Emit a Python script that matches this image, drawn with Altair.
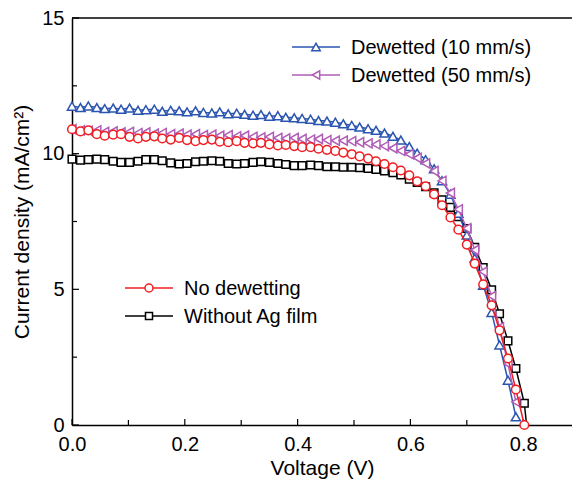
import altair as alt
import pandas as pd

voltage = [0.000, 0.015, 0.029, 0.044, 0.058, 0.073, 0.087, 0.102, 0.117, 0.131,
           0.146, 0.160, 0.175, 0.190, 0.204, 0.219, 0.233, 0.248, 0.262, 0.277,
           0.292, 0.306, 0.321, 0.335, 0.350, 0.365, 0.379, 0.394, 0.408, 0.423,
           0.437, 0.452, 0.467, 0.481, 0.496, 0.510, 0.525, 0.539, 0.554, 0.569,
           0.583, 0.598, 0.612, 0.627, 0.642, 0.656, 0.671, 0.685, 0.700, 0.714,
           0.729, 0.744, 0.758, 0.773, 0.787, 0.802]

j_blue = [11.75, 11.70, 11.76, 11.70, 11.66, 11.68, 11.64, 11.68, 11.60, 11.62,
          11.64, 11.56, 11.60, 11.58, 11.54, 11.58, 11.52, 11.50, 11.54, 11.47,
          11.49, 11.45, 11.42, 11.44, 11.38, 11.40, 11.34, 11.32, 11.30, 11.27,
          11.22, 11.20, 11.16, 11.10, 11.04, 10.98, 10.92, 10.86, 10.76, 10.64,
          10.50, 10.26, 10.02, 9.78, 9.44, 9.00, 8.50, 7.80, 7.00, 6.15,
          5.15, 4.15, 2.95, 1.65, 0.30]

j_purple = [10.90, 10.86, 10.84, 10.86, 10.80, 10.82, 10.78, 10.80, 10.76, 10.78,
            10.74, 10.76, 10.72, 10.74, 10.70, 10.72, 10.68, 10.70, 10.66, 10.68,
            10.64, 10.66, 10.62, 10.60, 10.62, 10.58, 10.56, 10.58, 10.54, 10.52,
            10.54, 10.50, 10.48, 10.48, 10.46, 10.42, 10.38, 10.34, 10.28, 10.20,
            10.10, 9.98, 9.84, 9.64, 9.36, 9.00, 8.55, 7.95, 7.25, 6.45,
            5.65, 4.75, 3.60, 2.25, 0.85]

j_red = [10.90, 10.82, 10.86, 10.72, 10.66, 10.70, 10.72, 10.62, 10.56, 10.62,
         10.64, 10.56, 10.52, 10.58, 10.50, 10.46, 10.50, 10.52, 10.44, 10.42,
         10.46, 10.40, 10.38, 10.40, 10.34, 10.30, 10.32, 10.28, 10.24, 10.24,
         10.18, 10.14, 10.10, 10.04, 9.98, 9.90, 9.82, 9.72, 9.62, 9.50,
         9.38, 9.20, 8.98, 8.80, 8.50, 8.10, 7.65, 7.20, 6.65, 5.95,
         5.18, 4.41, 3.49, 2.45, 1.31, 0.00]

j_black = [9.80, 9.76, 9.78, 9.80, 9.78, 9.72, 9.68, 9.68, 9.72, 9.78,
           9.78, 9.74, 9.66, 9.62, 9.64, 9.70, 9.72, 9.74, 9.72, 9.64,
           9.62, 9.64, 9.68, 9.70, 9.68, 9.64, 9.60, 9.56, 9.56, 9.58,
           9.56, 9.52, 9.52, 9.50, 9.50, 9.48, 9.46, 9.42, 9.36, 9.30,
           9.22, 9.06, 8.94, 8.78, 8.56, 8.30, 8.02, 7.68, 7.24, 6.55,
           5.80, 4.98, 4.10, 3.10, 2.08, 0.80]
black_end_v = [0.806]
black_end_j = [0.00]

names = ["Dewetted (10 mm/s)", "Dewetted (50 mm/s)", "No dewetting", "Without Ag film"]
colors = ["#2B55B0", "#B05DB5", "#F01E23", "#000000"]
shapes = ["triangle-up", "triangle-left", "circle", "square"]

x_major = [0.0, 0.2, 0.4, 0.6, 0.8]
x_minor = [0.1, 0.3, 0.5, 0.7]
y_major = [0, 5, 10, 15]
y_minor = [2.5, 7.5, 12.5]

# the plot continues to 0.9 V at the picture's right edge; only the visible part is drawn
W, H = 500, 407
X_MAX = 0.8865
FONT = "Liberation Sans"

xscale = alt.Scale(domain=[0, X_MAX], nice=False, zero=False, padding=0)
yscale = alt.Scale(domain=[0, 15], nice=False, padding=0)

SZ = {"triangle-up": 85, "triangle-left": 85, "circle": 75, "square": 58}

def line_layer(v, j, color):
    return alt.Chart(pd.DataFrame({"V": v, "J": j})).mark_line(
        color=color, strokeWidth=1.5).encode(
        x=alt.X("V:Q", scale=xscale), y=alt.Y("J:Q", scale=yscale))

def point_layer(v, j, color, shape):
    return alt.Chart(pd.DataFrame({"V": v, "J": j})).mark_point(
        shape=shape, color=color, filled=False, fill="white", fillOpacity=1,
        size=SZ[shape], strokeWidth=1.5, opacity=1).encode(
        x=alt.X("V:Q", scale=xscale), y=alt.Y("J:Q", scale=yscale))

bl_line = line_layer(voltage + black_end_v, j_black + black_end_j, colors[3])
bl_pts = point_layer(voltage, j_black, colors[3], shapes[3])
b_line = line_layer(voltage[:len(j_blue)], j_blue, colors[0])
b_pts = point_layer(voltage[:len(j_blue)], j_blue, colors[0], shapes[0])
p_line = line_layer(voltage[:len(j_purple)], j_purple, colors[1])
p_pts = point_layer(voltage[:len(j_purple)], j_purple, colors[1], shapes[1])
r_line = line_layer(voltage, j_red, colors[2])
r_pts = point_layer(voltage, j_red, colors[2], shapes[2])

axis_x = alt.Axis(title="Voltage (V)", values=x_major, format=".1f", ticks=False,
                  labelFlush=False, labelPadding=9, titlePadding=3,
                  labelFontSize=20, titleFontSize=21)
axis_y = alt.Axis(title="Current density (mA/cm²)", values=y_major, format="d",
                  ticks=False, labelFlush=False, labelPadding=8, titlePadding=9,
                  labelFontSize=20, titleFontSize=21)

frame = alt.Chart(pd.DataFrame({"V": [0.0], "J": [0.0]})).mark_point(opacity=0).encode(
    x=alt.X("V:Q", scale=xscale, axis=axis_x),
    y=alt.Y("J:Q", scale=yscale, axis=axis_y))

top_border = alt.Chart(pd.DataFrame({"J": [15]})).mark_rule(color="black", strokeWidth=1.5).encode(
    y=alt.Y("J:Q", scale=yscale), x=alt.value(0), x2=alt.value(W + 10))

xt_major = alt.Chart(pd.DataFrame({"V": x_major})).mark_rule(color="black", strokeWidth=1.2).encode(
    x=alt.X("V:Q", scale=xscale), y=alt.value(H - 6), y2=alt.value(H))
xt_minor = alt.Chart(pd.DataFrame({"V": x_minor})).mark_rule(color="black", strokeWidth=1.2).encode(
    x=alt.X("V:Q", scale=xscale), y=alt.value(H - 5), y2=alt.value(H))
yt_major = alt.Chart(pd.DataFrame({"J": y_major})).mark_rule(color="black", strokeWidth=1.2).encode(
    y=alt.Y("J:Q", scale=yscale), x=alt.value(0), x2=alt.value(7))
yt_minor = alt.Chart(pd.DataFrame({"J": y_minor})).mark_rule(color="black", strokeWidth=1.2).encode(
    y=alt.Y("J:Q", scale=yscale), x=alt.value(0), x2=alt.value(5))

def legend_entry(name, color, shape, x0, y0):
    one = alt.Chart(pd.DataFrame({"n": [name]}))
    rule = one.mark_rule(color=color, strokeWidth=1.5).encode(
        x=alt.value(x0), x2=alt.value(x0 + 48), y=alt.value(y0))
    sym = one.mark_point(shape=shape, color=color, filled=False, fill="white",
                         fillOpacity=1, size=SZ[shape] * 0.85, strokeWidth=1.5, opacity=1).encode(
        x=alt.value(x0 + 24), y=alt.value(y0))
    txt = one.mark_text(align="left", baseline="middle", font=FONT, fontSize=20,
                        color="black").encode(
        x=alt.value(x0 + 59), y=alt.value(y0 + 1), text="n:N")
    return [rule, sym, txt]

leg = []
leg += legend_entry(names[0], colors[0], shapes[0], 220, 29)
leg += legend_entry(names[1], colors[1], shapes[1], 220, 57)
leg += legend_entry(names[2], colors[2], shapes[2], 53, 270)
leg += legend_entry(names[3], colors[3], shapes[3], 53, 298)

chart = alt.layer(
    frame, top_border, xt_major, xt_minor, yt_major, yt_minor,
    bl_line, bl_pts, b_line, b_pts, p_line, p_pts, r_line, r_pts,
    *leg
).properties(
    width=W, height=H,
    autosize=alt.AutoSizeParams(type="none"),
    padding={"left": 64, "top": 10, "right": 0, "bottom": 57},
).configure_view(
    strokeWidth=0
).configure_axis(
    grid=False, domainColor="black", domainWidth=1.5,
    labelFont=FONT, titleFont=FONT,
    labelColor="black", titleColor="black", titleFontWeight="normal"
)

chart.save("out.html", embed_options={"renderer": "svg", "actions": False})
